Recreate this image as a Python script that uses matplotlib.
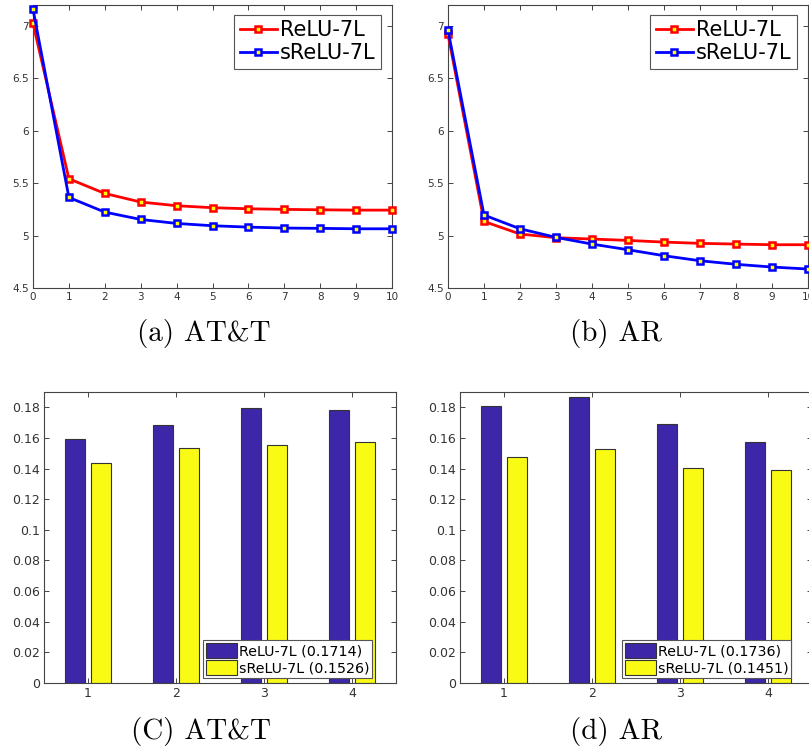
import numpy as np
import matplotlib
matplotlib.use("Agg")
import matplotlib.pyplot as plt

epochs = list(range(11))
att_relu = [7.025, 5.542, 5.402, 5.320, 5.285, 5.266, 5.256, 5.250, 5.246, 5.243, 5.243]
att_srelu = [7.160, 5.364, 5.224, 5.154, 5.116, 5.094, 5.081, 5.072, 5.069, 5.065, 5.065]
ar_relu = [6.920, 5.135, 5.015, 4.980, 4.967, 4.954, 4.938, 4.926, 4.919, 4.913, 4.913]
ar_srelu = [6.960, 5.196, 5.065, 4.983, 4.919, 4.865, 4.808, 4.760, 4.726, 4.700, 4.681]

groups = [1, 2, 3, 4]
att_bar_relu = [0.1593, 0.1685, 0.1798, 0.1780]
att_bar_srelu = [0.1439, 0.1535, 0.1554, 0.1576]
ar_bar_relu = [0.1811, 0.1870, 0.1691, 0.1572]
ar_bar_srelu = [0.1477, 0.1525, 0.1407, 0.1391]

W, H = 809, 751
fig = plt.figure(figsize=(W / 100, H / 100), dpi=100)


def px_axes(l, r, t, b):
    return fig.add_axes([l / W, 1 - b / H, (r - l) / W, (b - t) / H])


def style(ax, size):
    for s in ax.spines.values():
        s.set_color("#444444")
        s.set_linewidth(0.8)
    ax.tick_params(direction="in", top=True, right=True, length=3.5, width=0.7,
                   color="#444444", labelcolor="#333333", labelsize=size, pad=3)


def line_panel(ax, relu, srelu, legend_right):
    ax.plot(epochs, relu, "-s", color="red", lw=2, ms=4.3, mew=1.8, mfc="yellow",
            mec="red", label="ReLU-7L", clip_on=False, zorder=3)
    ax.plot(epochs, srelu, "-s", color="blue", lw=2, ms=4.3, mew=1.8, mfc="yellow",
            mec="blue", label="sReLU-7L", clip_on=False, zorder=3)
    ax.set_xlim(0, 10)
    ax.set_ylim(4.5, 7.2)
    ax.set_xticks(range(11))
    ax.set_yticks([4.5, 5, 5.5, 6, 6.5, 7])
    ax.set_yticklabels(["4.5", "5", "5.5", "6", "6.5", "7"])
    style(ax, 7.5)
    leg = ax.legend(loc="upper right", bbox_to_anchor=(legend_right / W, 1 - 15 / H),
                    bbox_transform=fig.transFigure, fontsize=15, handlelength=1.8,
                    handletextpad=0.15, borderpad=0.25, labelspacing=0.15,
                    fancybox=False, framealpha=1, borderaxespad=0)
    leg.get_frame().set_edgecolor("#555555")
    leg.get_frame().set_linewidth(0.8)


def bar_panel(ax, relu, srelu, tot1, tot2, legend_left):
    x = np.array(groups)
    ax.bar(x - 0.1429, relu, width=0.2286, color="#3e26a8", edgecolor="#333333",
           lw=0.8, label="ReLU-7L (%s)" % tot1)
    ax.bar(x + 0.1429, srelu, width=0.2286, color="#f9fb15", edgecolor="#333333",
           lw=0.8, label="sReLU-7L (%s)" % tot2)
    ax.set_xlim(0.5, 4.5)
    ax.set_ylim(0, 0.19)
    ax.set_xticks(groups)
    yt = np.arange(0, 0.19, 0.02)
    ax.set_yticks(yt)
    ax.set_yticklabels(["0", "0.02", "0.04", "0.06", "0.08", "0.1", "0.12", "0.14", "0.16", "0.18"])
    style(ax, 9)
    leg = ax.legend(loc="lower left", bbox_to_anchor=(legend_left / W, 1 - 678 / H),
                    bbox_transform=fig.transFigure, fontsize=10.3, handlelength=2.2,
                    handleheight=1.25, handletextpad=0.1, borderpad=0.2, labelspacing=0.1,
                    fancybox=False, framealpha=1, borderaxespad=0)
    leg.get_frame().set_edgecolor("#555555")
    leg.get_frame().set_linewidth(0.8)


ax_a = px_axes(33, 392, 5, 288)
line_panel(ax_a, att_relu, att_srelu, 381)
ax_b = px_axes(448, 808, 5, 288)
line_panel(ax_b, ar_relu, ar_srelu, 797)

ax_c = px_axes(44, 396, 392, 683)
bar_panel(ax_c, att_bar_relu, att_bar_srelu, "0.1714", "0.1526", 203)
ax_d = px_axes(460, 812, 392, 683)
bar_panel(ax_d, ar_bar_relu, ar_bar_srelu, "0.1736", "0.1451", 622)

caps = [(204, 333, "(a) AT&T"), (616, 333, "(b) AR"),
        (201, 731, "(C) AT&T"), (616, 731, "(d) AR")]
for cx, cy, txt in caps:
    fig.text(cx / W, 1 - cy / H, txt, ha="center", va="center", fontsize=21,
             family=["cmr10", "DejaVu Serif"])

fig.savefig("out.png", dpi=100)
